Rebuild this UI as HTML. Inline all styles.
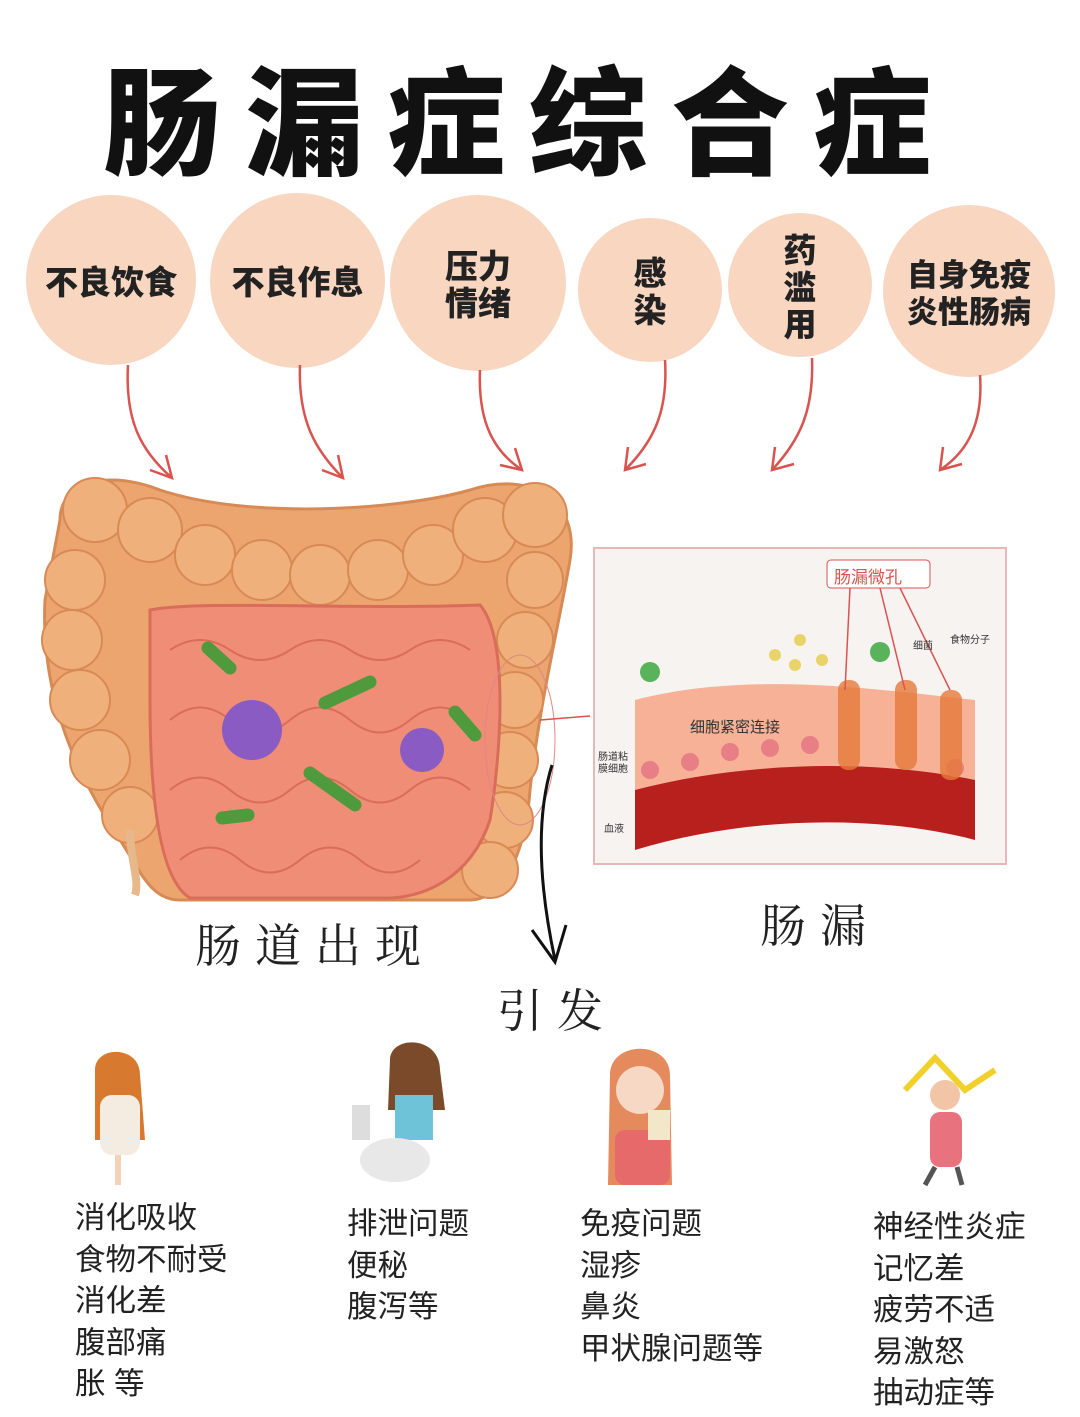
<!DOCTYPE html>
<html><head><meta charset="utf-8"><style>
body{margin:0;width:1080px;height:1417px;background:#fff;position:relative;overflow:hidden;font-family:"Liberation Sans","Noto Sans CJK SC",sans-serif}
.t{position:absolute;white-space:nowrap}
.title{left:103px;top:35px;font-size:118px;line-height:160px;font-weight:900;letter-spacing:24px;color:#111;font-family:"Noto Sans CJK SC",sans-serif}
.c{position:absolute;border-radius:50%;background:#f8d6c0;display:flex;align-items:center;justify-content:center;text-align:center;font-weight:900;color:#222;font-size:33px;line-height:37px;font-family:"Noto Sans CJK SC",sans-serif}
.l{font-size:30.5px;line-height:41.5px;color:#222}
.h{font-family:"Noto Serif CJK SC",serif;font-size:46px;color:#222;letter-spacing:14px}
</style></head><body>
<div class="t title">肠漏症综合症</div>
<div class="c" style="left:26px;top:195px;width:170px;height:170px">不良饮食</div>
<div class="c" style="left:210px;top:193px;width:175px;height:175px">不良作息</div>
<div class="c" style="left:390px;top:195px;width:176px;height:176px">压力<br>情绪</div>
<div class="c" style="left:578px;top:218px;width:144px;height:144px">感<br>染</div>
<div class="c" style="left:728px;top:213px;width:144px;height:144px">药<br>滥<br>用</div>
<div class="c" style="left:883px;top:205px;width:172px;height:172px;font-size:31px">自身免疫<br>炎性肠病</div>
<svg width="1080" height="1417" style="position:absolute;left:0;top:0">
<g fill="none" stroke="#d9534f" stroke-width="2.5">
<path d="M128 365 C125 420 140 450 172 478"/><path d="M150 470 L172 478 L166 455"/>
<path d="M300 365 C298 420 315 450 343 478"/><path d="M322 470 L343 478 L338 455"/>
<path d="M480 370 C478 420 492 450 522 470"/><path d="M500 465 L522 470 L515 448"/>
<path d="M665 360 C668 410 655 440 625 470"/><path d="M628 447 L625 470 L646 464"/>
<path d="M812 358 C814 410 800 440 772 470"/><path d="M775 447 L772 470 L794 464"/>
<path d="M980 375 C983 420 970 450 940 470"/><path d="M943 447 L940 470 L962 464"/>
</g>
<!-- intestine -->
<path d="M60 520 C60 480 110 470 160 490 C250 520 400 510 470 490 C530 470 580 500 570 560 C560 620 540 700 530 790 C525 860 500 900 470 900 L180 900 C150 900 140 870 120 840 C80 780 40 700 45 600 Z" fill="#eca56f" stroke="#d88a55" stroke-width="3"/>
<g fill="#efb07c" stroke="#d88a55" stroke-width="2">
<circle cx="95" cy="510" r="32"/><circle cx="150" cy="530" r="32"/><circle cx="205" cy="555" r="30"/><circle cx="262" cy="570" r="30"/><circle cx="320" cy="575" r="30"/><circle cx="378" cy="570" r="30"/><circle cx="433" cy="555" r="30"/><circle cx="485" cy="530" r="32"/><circle cx="535" cy="515" r="32"/>
<circle cx="75" cy="580" r="30"/><circle cx="72" cy="640" r="30"/><circle cx="80" cy="700" r="30"/><circle cx="100" cy="760" r="30"/><circle cx="130" cy="815" r="28"/>
<circle cx="535" cy="580" r="28"/><circle cx="525" cy="640" r="28"/><circle cx="515" cy="700" r="28"/><circle cx="510" cy="760" r="28"/><circle cx="505" cy="820" r="28"/><circle cx="490" cy="870" r="28"/>
</g>
<path d="M150 610 C200 600 350 610 480 605 C510 640 500 760 490 820 C470 880 420 900 380 898 L190 898 C160 880 150 800 150 700 Z" fill="#f08d76" stroke="#d96d5a" stroke-width="3"/>
<g fill="none" stroke="#d96d5a" stroke-width="2">
<path d="M170 650 q30 -20 60 0 t60 0 t60 0 t60 0 t60 0"/><path d="M170 720 q30 -25 60 0 t60 0 t60 0 t60 0 t60 0"/><path d="M170 790 q30 -25 60 0 t60 0 t60 0 t60 0 t60 0"/><path d="M180 860 q30 -25 60 0 t60 0 t60 0 t60 0"/>
</g>
<circle cx="252" cy="730" r="30" fill="#8a5bc2"/><circle cx="422" cy="750" r="22" fill="#8a5bc2"/>
<g stroke="#4f9a3d" stroke-width="13" stroke-linecap="round"><line x1="208" y1="648" x2="230" y2="668"/><line x1="325" y1="703" x2="370" y2="682"/><line x1="310" y1="773" x2="355" y2="805"/><line x1="455" y1="712" x2="475" y2="735"/><line x1="222" y1="818" x2="248" y2="815"/></g>
<path d="M130 830 C130 860 140 880 135 895" stroke="#e7b88a" stroke-width="8" fill="none"/>
<ellipse cx="520" cy="740" rx="35" ry="85" fill="none" stroke="#d88" stroke-width="1"/>
<path d="M540 720 L590 716" stroke="#d9534f" stroke-width="1.5"/>
<!-- panel -->
<rect x="594" y="548" width="412" height="316" fill="#f7f3f1" stroke="#e7b8b8" stroke-width="2"/>
<path d="M635 700 C750 670 880 690 975 700 L975 790 C880 770 750 780 635 810 Z" fill="#f6b196"/>
<path d="M635 790 C750 760 880 760 975 780 L975 840 C880 815 750 815 635 850 Z" fill="#b8201e"/>
<g fill="#e87f86"><circle cx="650" cy="770" r="9"/><circle cx="690" cy="762" r="9"/><circle cx="730" cy="752" r="9"/><circle cx="770" cy="748" r="9"/><circle cx="810" cy="745" r="9"/><circle cx="955" cy="768" r="9"/></g>
<g fill="#e67b3a" opacity=".8"><rect x="838" y="680" width="22" height="90" rx="10"/><rect x="895" y="680" width="22" height="90" rx="10"/><rect x="940" y="690" width="22" height="90" rx="10"/></g>
<g fill="#e9d46a"><circle cx="775" cy="655" r="6"/><circle cx="795" cy="665" r="6"/><circle cx="800" cy="640" r="6"/><circle cx="822" cy="660" r="6"/></g>
<circle cx="650" cy="672" r="10" fill="#58b35a"/><circle cx="880" cy="652" r="10" fill="#58b35a"/>
<rect x="827" y="560" width="103" height="28" rx="4" fill="#fff" stroke="#d9534f"/>
<g stroke="#d9534f" stroke-width="1.5"><line x1="850" y1="588" x2="845" y2="690"/><line x1="880" y1="588" x2="905" y2="690"/><line x1="900" y1="588" x2="950" y2="690"/></g>
<!-- black arrow -->
<path d="M552 765 C535 820 540 890 555 960" stroke="#111" stroke-width="3" fill="none"/>
<path d="M532 930 L555 962 L566 925" stroke="#111" stroke-width="3" fill="none"/>
<!-- figures -->
<g><circle cx="117" cy="1075" r="20" fill="#f4d2b8"/><path d="M95 1070 C95 1045 140 1045 140 1075 L145 1140 L95 1140 Z" fill="#d77a2f"/><rect x="100" y="1095" width="40" height="60" rx="12" fill="#f4ece0"/><rect x="115" y="1155" width="6" height="30" fill="#f4d2b8"/></g>
<g><circle cx="415" cy="1070" r="22" fill="#f4d2b8"/><path d="M390 1060 C390 1035 440 1035 440 1070 L445 1110 L388 1110 Z" fill="#7a4a2a"/><rect x="395" y="1095" width="38" height="45" fill="#6fc3d8"/><ellipse cx="395" cy="1160" rx="35" ry="22" fill="#e8e8e8"/><rect x="352" y="1105" width="18" height="35" fill="#ddd"/></g>
<g><path d="M610 1075 C610 1040 670 1040 670 1075 L672 1185 L608 1185 Z" fill="#e58a5d"/><circle cx="640" cy="1090" r="24" fill="#f6d8c4"/><rect x="615" y="1130" width="55" height="55" rx="10" fill="#e66a6a"/><rect x="648" y="1110" width="22" height="30" fill="#f2e8c9"/></g>
<g><path d="M905 1090 L935 1058 L965 1090 L995 1070" stroke="#f2d02a" stroke-width="6" fill="none"/><circle cx="945" cy="1095" r="15" fill="#f2c5a6"/><rect x="930" y="1112" width="32" height="55" rx="10" fill="#e8737e"/><path d="M935 1167 L925 1185 M957 1167 L962 1185" stroke="#555" stroke-width="5"/></g>
</svg>
<div class="t" style="left:834px;top:563px;font-size:17px;color:#d9534f">肠漏微孔</div>
<div class="t" style="left:690px;top:716px;font-size:15px;color:#333">细胞紧密连接</div>
<div class="t" style="left:913px;top:637px;font-size:10px;color:#333">细菌</div>
<div class="t" style="left:950px;top:631px;font-size:10px;color:#333">食物分子</div>
<div class="t" style="left:598px;top:752px;font-size:10px;line-height:12px;color:#333">肠道粘<br>膜细胞</div>
<div class="t" style="left:604px;top:820px;font-size:10px;color:#333">血液</div>
<div class="t h" style="left:195px;top:910px">肠道出现</div>
<div class="t h" style="left:760px;top:890px">肠漏</div>
<div class="t h" style="left:497px;top:975px">引发</div>
<div class="t l" style="left:75px;top:1198px">消化吸收<br>食物不耐受<br>消化差<br>腹部痛<br>胀 等</div>
<div class="t l" style="left:347px;top:1204px">排泄问题<br>便秘<br>腹泻等</div>
<div class="t l" style="left:580px;top:1204px">免疫问题<br>湿疹<br>鼻炎<br>甲状腺问题等</div>
<div class="t l" style="left:873px;top:1207px">神经性炎症<br>记忆差<br>疲劳不适<br>易激怒<br>抽动症等</div>
</body></html>
